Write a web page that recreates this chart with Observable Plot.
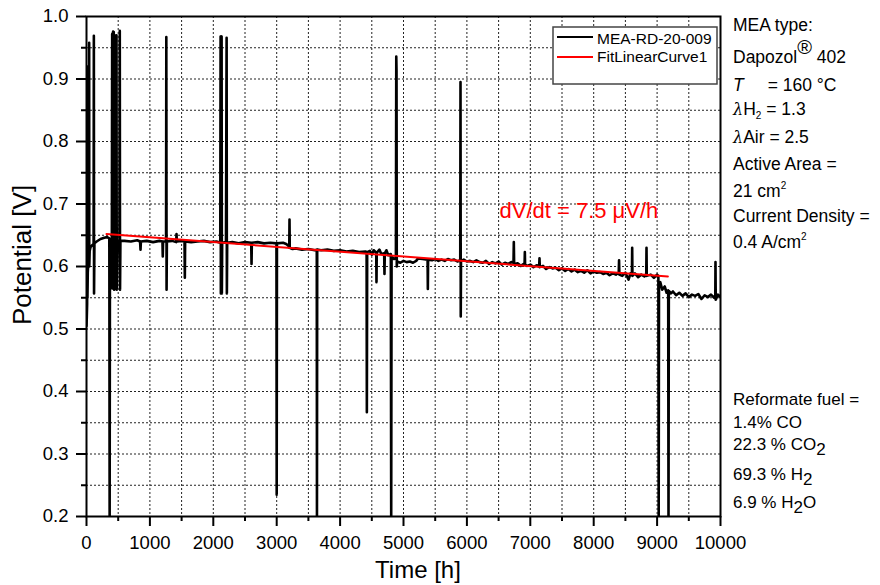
<!DOCTYPE html>
<html><head><meta charset="utf-8">
<script src="https://cdn.jsdelivr.net/npm/d3@7"></script>
<script src="https://cdn.jsdelivr.net/npm/@observablehq/plot@0.6"></script>
<style>
body{margin:0;background:#fff;}
#chart{position:relative;width:880px;height:585px;}
svg{overflow:visible;}
</style></head><body><div id="chart"></div>
<script>
// ---- data ----
const timeH = [
  0,5,10,12,15,20,30,40,42,44,50,63,90,112,116,119,125,160,221,280,326,360,365,370,400,
  405,408,412,416,420,425,430,436,442,448,455,470,473,477,490,520,525,529,535,
  600,700,800,845,852,858,950,1050,1150,1198,1203,1208,1255,1259,1263,1268,1350,1415,1420,1425,
  1500,1546,1551,1556,1650,1750,1850,1950,2050,2110,2115,2119,2123,2127,2131,2135,2140,2200,
  2210,2214,2219,2300,2400,2500,2598,2603,2608,2700,2800,2900,2996,3000,3004,3100,3150,3185,
  3198,3202,3206,3250,3300,3400,3500,3600,3632,3635,3639,3700,3800,3900,4000,4100,4200,4300,
  4400,4418,4422,4427,4470,4500,4530,4570,4574,4578,4620,4650,4695,4700,4705,4730,4760,4800,
  4806,4812,4850,4880,4886,4890,4894,4900,4950,5000,5050,5100,5150,5200,5230,5300,5380,5384,
  5388,5450,5500,5550,5600,5650,5700,5750,5800,5850,5895,5899,5903,5907,5950,6000,6050,6100,
  6150,6200,6250,6300,6350,6400,6450,6500,6550,6600,6650,6700,6735,6740,6745,6800,6850,6910,
  6914,6918,6950,7000,7050,7100,7140,7145,7150,7200,7250,7300,7350,7400,7450,7500,7550,7600,
  7650,7700,7750,7800,7850,7900,7950,8000,8050,8100,8150,8200,8250,8300,8350,8395,8400,8405,
  8450,8500,8550,8580,8603,8607,8611,8650,8700,8750,8800,8829,8833,8837,8900,8950,9000,9020,
  9025,9030,9050,9080,9120,9150,9175,9180,9185,9220,9250,9300,9350,9400,9450,9500,9550,9600,
  9650,9700,9750,9800,9850,9900,9918,9921,9925,9960,10000
];
const potentialV = [
  0.505,0.52,0.54,0.92,0.55,0.59,0.61,0.62,0.958,0.6,0.625,0.631,0.634,0.636,0.969,0.557,0.637,0.64,0.644,0.646,0.647,0.645,0.2,0.642,0.641,
  0.972,0.565,0.973,0.565,0.976,0.565,0.975,0.563,0.97,0.62,0.642,0.642,0.97,0.563,0.641,0.641,0.977,0.563,0.641,
  0.641,0.640,0.642,0.640,0.627,0.640,0.641,0.639,0.641,0.640,0.616,0.640,0.640,0.967,0.563,0.640,0.641,0.639,0.652,0.640,
  0.641,0.640,0.582,0.640,0.639,0.640,0.641,0.639,0.640,0.638,0.968,0.557,0.968,0.557,0.968,0.557,0.638,0.639,
  0.966,0.557,0.638,0.639,0.637,0.639,0.638,0.604,0.638,0.639,0.637,0.638,0.637,0.235,0.637,0.638,0.636,0.633,
  0.630,0.675,0.630,0.628,0.629,0.627,0.628,0.626,0.627,0.2,0.627,0.626,0.627,0.625,0.626,0.624,0.625,0.623,
  0.624,0.623,0.367,0.623,0.625,0.619,0.626,0.622,0.575,0.622,0.627,0.620,0.621,0.588,0.621,0.626,0.618,0.620,
  0.2,0.616,0.612,0.613,0.936,0.913,0.600,0.608,0.606,0.609,0.607,0.608,0.606,0.609,0.613,0.612,0.611,0.564,
  0.611,0.610,0.612,0.609,0.611,0.609,0.612,0.610,0.611,0.608,0.610,0.895,0.520,0.609,0.611,0.608,0.609,0.607,
  0.610,0.607,0.606,0.609,0.604,0.607,0.605,0.608,0.603,0.606,0.604,0.607,0.606,0.639,0.604,0.605,0.601,0.605,
  0.623,0.603,0.601,0.603,0.599,0.602,0.600,0.613,0.599,0.601,0.596,0.599,0.597,0.598,0.594,0.597,0.593,0.596,
  0.592,0.595,0.591,0.593,0.590,0.594,0.589,0.592,0.590,0.591,0.588,0.590,0.586,0.589,0.587,0.590,0.610,0.587,
  0.585,0.590,0.579,0.589,0.588,0.630,0.585,0.589,0.583,0.587,0.584,0.588,0.630,0.585,0.587,0.582,0.587,0.585,
  0.2,0.570,0.575,0.563,0.568,0.558,0.562,0.2,0.561,0.557,0.560,0.554,0.558,0.553,0.557,0.551,0.555,0.553,
  0.556,0.548,0.554,0.551,0.555,0.550,0.554,0.607,0.547,0.555,0.551
];
const fitTimeH = [315, 9170];
const fitPotentialV = [0.652, 0.584];
const seriesNames = ["MEA-RD-20-009", "FitLinearCurve1"];
const slopeLabel = "dV/dt = 7.5 \u03BCV/h";
const slopeAt = {t: 6514, v: 0.689};
const xTicks = [0,1000,2000,3000,4000,5000,6000,7000,8000,9000,10000];
const xMinorTicks = [500,1500,2500,3500,4500,5500,6500,7500,8500,9500];
const yTicks = [0.2,0.3,0.4,0.5,0.6,0.7,0.8,0.9,1.0];
const yMinorTicks = [0.25,0.35,0.45,0.55,0.65,0.75,0.85,0.95];

// ---- build ----
const series = timeH.map((t, i) => ({t, v: potentialV[i]}));
const fit = fitTimeH.map((t, i) => ({t, v: fitPotentialV[i]}));
const font = "'Liberation Sans', Arial, Helvetica, sans-serif";
const gridStyle = {stroke: "#222", strokeWidth: 1, strokeDasharray: "2,2"};

const fig = Plot.plot({
  width: 880, height: 585,
  marginLeft: 86, marginRight: 160, marginTop: 16, marginBottom: 69,
  style: {fontFamily: font, background: "white", color: "black", overflow: "visible"},
  x: {domain: [0, 10000]},
  y: {domain: [0.2, 1.0]},
  marks: [
    Plot.ruleX(xMinorTicks.concat(xTicks.slice(1, -1)), gridStyle),
    Plot.ruleY(yMinorTicks.concat(yTicks.slice(1, -1)), gridStyle),
    Plot.line(series, {x: "t", y: "v", stroke: "black", strokeWidth: 2.6, strokeLinejoin: "round", clip: true}),
    Plot.line(fit, {x: "t", y: "v", stroke: "#ff0000", strokeWidth: 2}),
    Plot.text([slopeAt], {x: "t", y: "v", text: () => slopeLabel, textAnchor: "start", fill: "#ff0000", fontSize: 22}),
    Plot.frame({stroke: "black", strokeWidth: 2}),
    Plot.axisX({ticks: xTicks, tickSize: 10, tickPadding: 9, fontSize: 18.5, strokeWidth: 2, tickFormat: d => String(d), label: null}),
    Plot.axisX({ticks: xMinorTicks, tickSize: 5, strokeWidth: 2, tickFormat: () => "", label: null}),
    Plot.axisY({ticks: yTicks, tickSize: 10, tickPadding: 8, fontSize: 18.5, strokeWidth: 2, tickFormat: d3.format(".1f"), label: null}),
    Plot.axisY({ticks: yMinorTicks, tickSize: 5, strokeWidth: 2, tickFormat: () => "", label: null})
  ]
});
document.getElementById("chart").appendChild(fig);

// ---- annotations (text) ----
const svg = d3.select(fig);
function addLine(x, y, size, parts, fill) {
  const t = svg.append("text").attr("x", x).attr("y", y).attr("text-anchor", "start")
    .attr("font-family", font).attr("font-size", size).attr("fill", fill || "black");
  parts.forEach(p => {
    if (typeof p === "string") { t.append("tspan").text(p); return; }
    const s = t.append("tspan").text(p.t);
    if (p.size) s.attr("font-size", p.size);
    if (p.italic) s.attr("font-style", "italic");
    if (p.dy) s.attr("dy", p.dy);
    if (p.dx) s.attr("dx", p.dx);
    if (p.family) s.attr("font-family", p.family);
  });
  return t;
}
const fs = 17.5;
addLine(733, 31, fs, ["MEA type:"]);
addLine(733, 63, fs, ["Dapozol", {t: "\u00AE", size: 20, dy: -9}, {t: " 402", dy: 9}]);
addLine(733, 91, fs, [{t: "T", italic: true}, {t: "= 160 \u00B0C", dx: 24}]);
addLine(733, 115, fs, [{t: "\u03BB", italic: true, family: "'DejaVu Serif', serif", size: 16}, "H", {t: "2", size: 10, dy: 4}, {t: " = 1.3", dy: -4}]);
addLine(733, 143, fs, [{t: "\u03BB", italic: true, family: "'DejaVu Serif', serif", size: 16}, "Air = 2.5"]);
addLine(733, 170, fs, ["Active Area ="]);
addLine(733, 197, fs, ["21 cm", {t: "2", size: 10, dy: -8}]);
addLine(733, 222, fs, ["Current Density ="]);
addLine(733, 248, fs, ["0.4 A/cm", {t: "2", size: 10, dy: -8}]);

addLine(733, 405, 17, ["Reformate fuel ="]);
addLine(733, 428, 17, ["1.4% CO"]);
addLine(733, 450, 17, ["22.3 % CO", {t: "2", size: 17, dy: 5}]);
addLine(733, 480, 17, ["69.3 % H", {t: "2", size: 17, dy: 5}]);
addLine(733, 508, 17, ["6.9 % H", {t: "2", size: 17, dy: 5}, {t: "O", dy: -5}]);

// axis titles
addLine(418, 578, 24, ["Time [h]"]).attr("text-anchor", "middle");
svg.append("text").attr("transform", "translate(31,255) rotate(-90)")
  .attr("text-anchor", "middle").attr("font-family", font).attr("font-size", 26).text("Potential [V]");

// legend
const lg = svg.append("g");
lg.append("rect").attr("x", 553).attr("y", 27).attr("width", 164).attr("height", 57)
  .attr("fill", "white").attr("stroke", "#444").attr("stroke-width", 1.5);
[["black", 37, 44], ["#ff0000", 57, 62]].forEach(([c, ly, ty], i) => {
  lg.append("line").attr("x1", 557).attr("x2", 593).attr("y1", ly).attr("y2", ly)
    .attr("stroke", c).attr("stroke-width", 2);
  lg.append("text").attr("x", 597).attr("y", ty).attr("text-anchor", "start").attr("font-family", font)
    .attr("font-size", 15.5).text(seriesNames[i]);
});
</script></body></html>
